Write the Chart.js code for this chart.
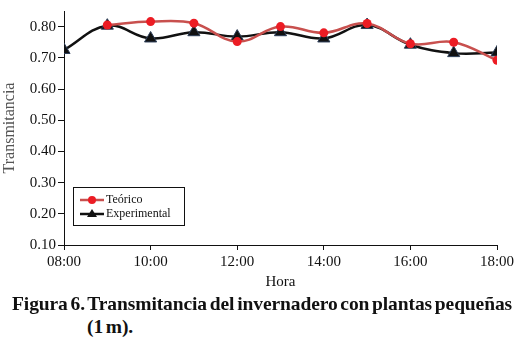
<!DOCTYPE html>
<html>
<head>
<meta charset="utf-8">
<script src="https://cdn.jsdelivr.net/npm/chart.js@4/dist/chart.umd.min.js"></script>
<style>
  html, body { margin: 0; padding: 0; background: #fff; }
  #wrap { position: relative; width: 526px; height: 345px; overflow: hidden; }
  #c { position: absolute; left: 0; top: 0; }
  .cap { position: absolute; font-family: "Liberation Serif", serif; font-weight: bold; font-size: 19.5px; letter-spacing: -0.1px; word-spacing: -2px; color: #111; white-space: nowrap; }
</style>
</head>
<body>
<div id="wrap">
  <canvas id="c" width="526" height="295"></canvas>
  <div class="cap" style="left:12px; top:293px;">Figura 6. Transmitancia del invernadero con plantas pequeñas</div>
  <div class="cap" style="left:87px; top:316px;">(1 m).</div>
</div>
<script>
// horas del día (eje x)
const horas = [8, 9, 10, 11, 12, 13, 14, 15, 16, 17, 18];
const xTicks = [8, 10, 12, 14, 16, 18];
const yTicks = [0.10, 0.20, 0.30, 0.40, 0.50, 0.60, 0.70, 0.80];

// series
const teorico =      [null, 0.805, 0.816, 0.811, 0.752, 0.800, 0.780, 0.810, 0.745, 0.750, 0.692];
const experimental = [0.725, 0.803, 0.762, 0.782, 0.768, 0.782, 0.762, 0.805, 0.742, 0.715, 0.717];

const serif = '"Liberation Serif", "Times New Roman", serif';
const fmtHora = v => String(v).padStart(2, '0') + ':00';

// leyenda en recuadro dentro del área del gráfico
const boxLegend = {
  id: 'boxLegend',
  afterDatasetsDraw(chart) {
    const ctx = chart.ctx;
    const x = 73, y = 187, w = 111, h = 38;
    ctx.save();
    ctx.fillStyle = '#fff';
    ctx.fillRect(x, y, w, h);
    ctx.strokeStyle = '#111';
    ctx.lineWidth = 1;
    ctx.strokeRect(x + 0.5, y + 0.5, w, h);
    ctx.font = '12px ' + serif;
    ctx.textBaseline = 'middle';
    chart.data.datasets.forEach((ds, i) => {
      const yy = y + 13 + i * 14;
      ctx.strokeStyle = ds.borderColor;
      ctx.lineWidth = 2.5;
      ctx.beginPath(); ctx.moveTo(x + 7, yy); ctx.lineTo(x + 31, yy); ctx.stroke();
      ctx.fillStyle = ds.pointBackgroundColor;
      ctx.beginPath();
      if (ds.pointStyle === 'triangle') {
        ctx.moveTo(x + 19, yy - 5); ctx.lineTo(x + 24, yy + 3); ctx.lineTo(x + 14, yy + 3); ctx.closePath();
      } else {
        ctx.arc(x + 19, yy, 4, 0, Math.PI * 2);
      }
      ctx.fill();
      ctx.fillStyle = '#111';
      ctx.fillText(ds.label, x + 33, yy);
    });
    ctx.restore();
  }
};

new Chart(document.getElementById('c'), {
  type: 'line',
  data: {
    datasets: [
      {
        label: 'Teórico',
        data: horas.map((h, i) => ({ x: h, y: teorico[i] })),
        borderColor: '#c8504e',
        borderWidth: 2.5,
        pointStyle: 'circle',
        pointRadius: 4.5,
        pointBackgroundColor: '#ec1c24',
        pointBorderColor: '#ec1c24',
        pointBorderWidth: 0,
        tension: 0.4,
        spanGaps: false,
        order: 0
      },
      {
        label: 'Experimental',
        data: horas.map((h, i) => ({ x: h, y: experimental[i] })),
        borderColor: '#111111',
        borderWidth: 2.5,
        pointStyle: 'triangle',
        pointRadius: 7,
        pointBackgroundColor: '#111111',
        pointBorderColor: '#2c3e58',
        pointBorderWidth: 1,
        tension: 0.4,
        order: 1
      }
    ]
  },
  options: {
    responsive: false,
    animation: false,
    layout: { padding: { left: 0, right: 29, top: 10, bottom: 0 } },
    plugins: { legend: { display: false }, tooltip: { enabled: false } },
    scales: {
      x: {
        type: 'linear',
        min: 8, max: 18,
        afterBuildTicks: s => { s.ticks = xTicks.map(v => ({ value: v })); },
        afterFit: s => { s.height = 50; },
        grid: { display: true, drawOnChartArea: false, drawTicks: true, tickLength: 5, color: '#111' },
        border: { display: true, color: '#111', width: 1 },
        ticks: { color: '#111', font: { family: serif, size: 15 }, padding: 3, maxRotation: 0, callback: v => fmtHora(v) },
        title: { display: true, text: 'Hora', color: '#111', font: { family: serif, size: 15 }, padding: { top: 2, bottom: 4 } }
      },
      y: {
        min: 0.10, max: 0.85,
        afterBuildTicks: s => { s.ticks = yTicks.map(v => ({ value: v })); },
        afterFit: s => { s.width = 64; },
        grid: { display: true, drawOnChartArea: false, drawTicks: true, tickLength: 6, color: '#111' },
        border: { display: true, color: '#111', width: 1 },
        ticks: { color: '#111', font: { family: serif, size: 15 }, padding: 2, callback: v => v.toFixed(2) },
        title: { display: true, text: 'Transmitancia', color: '#555', font: { family: serif, size: 16 }, padding: { top: 0, bottom: 4 } }
      }
    }
  },
  plugins: [boxLegend]
});
</script>
</body>
</html>
